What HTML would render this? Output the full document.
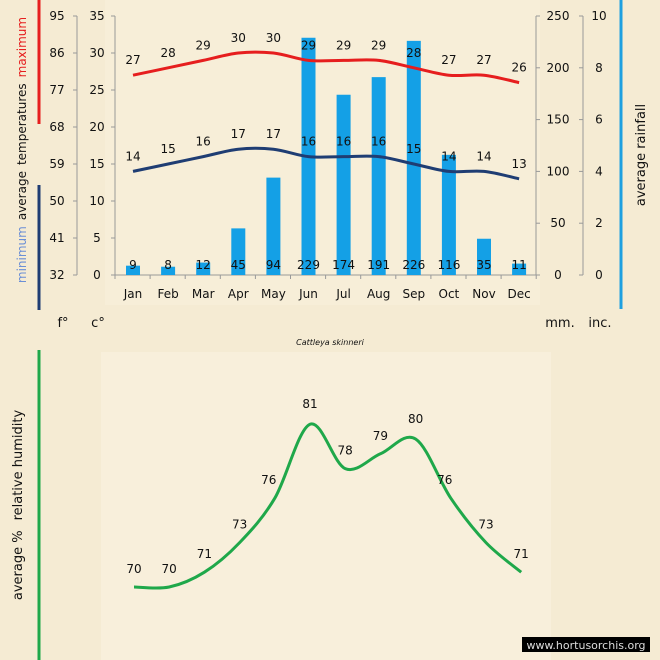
<!DOCTYPE html>
<html><head><meta charset="utf-8"><style>
html,body{margin:0;padding:0;background:#f5ebd3;}
svg{display:block;font-family:"DejaVu Sans","Liberation Sans",sans-serif;}
</style></head><body>
<svg id="s" width="660" height="660" viewBox="0 0 660 660" xmlns="http://www.w3.org/2000/svg">
<rect width="660" height="660" fill="#f5ebd3"/>
<rect x="105" y="0" width="435" height="305" fill="#f7eed8"/>
<rect x="101" y="352" width="450" height="308" fill="#f8efdb"/>
</svg>
<script>
const s=document.getElementById('s');const NS='http://www.w3.org/2000/svg';
function el(t,a,txt){const e=document.createElementNS(NS,t);for(const k in a)e.setAttribute(k,a[k]);if(txt!==undefined)e.textContent=txt;s.appendChild(e);return e;}
function txt(x,y,t,sz,o){return el('text',Object.assign({x:x,y:y,'font-size':sz||12,fill:'#111','text-anchor':'middle'},o||{}),t);}
function smooth(p){let d='M'+p[0][0]+','+p[0][1];for(let i=0;i<p.length-1;i++){const p0=p[i-1]||p[i],p1=p[i],p2=p[i+1],p3=p[i+2]||p2;const t=6;d+=' C'+(p1[0]+(p2[0]-p0[0])/t)+','+(p1[1]+(p2[1]-p0[1])/t)+' '+(p2[0]-(p3[0]-p1[0])/t)+','+(p2[1]-(p3[1]-p1[1])/t)+' '+p2[0]+','+p2[1];}return d;}
const mon=['Jan','Feb','Mar','Apr','May','Jun','Jul','Aug','Sep','Oct','Nov','Dec'];
const X=i=>133+i*35.1;
const Y=v=>275-7.4*v;
const rain=[9,8,12,45,94,229,174,191,226,116,35,11];
const mx=[27,28,29,30,30,29,29,29,28,27,27,26];
const mn=[14,15,16,17,17,16,16,16,15,14,14,13];
el('line',{x1:39,y1:0,x2:39,y2:124,stroke:'#e61e1e','stroke-width':3});
el('line',{x1:39,y1:185,x2:39,y2:310,stroke:'#1f3d73','stroke-width':3});
el('line',{x1:621,y1:0,x2:621,y2:309,stroke:'#1ea0e0','stroke-width':3});
el('line',{x1:39,y1:350,x2:39,y2:660,stroke:'#1fa84a','stroke-width':3});
const g=el('text',{transform:'translate(26,150) rotate(-90)','font-size':12,'text-anchor':'middle',fill:'#111'});
g.innerHTML='<tspan fill="#6b8fd6">minimum</tspan><tspan dx="6">average</tspan><tspan dx="6">temperatures</tspan><tspan dx="6" fill="#e61e1e">maximum</tspan>';
el('text',{transform:'translate(645,155) rotate(-90)','font-size':13,'text-anchor':'middle',fill:'#111'},'average rainfall');
const h=el('text',{transform:'translate(22,505) rotate(-90)','font-size':13,'text-anchor':'middle',fill:'#111'});
h.innerHTML='<tspan>average %</tspan><tspan dx="10">relative humidity</tspan>';
el('line',{x1:77,y1:16,x2:77,y2:275,stroke:'#999'});
el('line',{x1:115,y1:16,x2:115,y2:275,stroke:'#999'});
el('line',{x1:536,y1:16,x2:536,y2:275,stroke:'#999'});
el('line',{x1:583,y1:16,x2:583,y2:275,stroke:'#999'});
el('line',{x1:115,y1:275,x2:536,y2:275,stroke:'#999'});
const F=[32,41,50,59,68,77,86,95];
for(let i=0;i<8;i++){const y=275-i*37;
 el('line',{x1:73,y1:y,x2:77,y2:y,stroke:'#999'});el('line',{x1:111,y1:y,x2:115,y2:y,stroke:'#999'});
 txt(57,y+4,F[i],12);txt(97,y+4,i*5,12);}
for(let i=0;i<6;i++){const y=275-i*51.8;
 el('line',{x1:536,y1:y,x2:540,y2:y,stroke:'#999'});el('line',{x1:579,y1:y,x2:583,y2:y,stroke:'#999'});
 txt(558,y+4,i*50,12);txt(599,y+4,i*2,12);}
for(let i=0;i<=12;i++){const x=115+i*35.1;el('line',{x1:x,y1:275,x2:x,y2:279,stroke:'#999'});}
for(let i=0;i<12;i++){const x=X(i),hh=rain[i]*1.036;
 el('rect',{x:x-7,y:275-hh,width:14,height:hh,fill:'#14a0e6'});
 txt(x,298,mon[i],12);txt(x,269,rain[i],12);}
el('path',{d:smooth(mx.map((v,i)=>[X(i),Y(v)])),fill:'none',stroke:'#e61e1e','stroke-width':3});
el('path',{d:smooth(mn.map((v,i)=>[X(i),Y(v)])),fill:'none',stroke:'#1f3d73','stroke-width':3});
mx.forEach((v,i)=>txt(X(i),Y(v)-11,v,12));
mn.forEach((v,i)=>txt(X(i),Y(v)-11,v,12));
txt(63,327,'f°',13);txt(98,327,'c°',13);txt(560,327,'mm.',13);txt(600,327,'inc.',13);
txt(330,345,'Cattleya skinneri',8,{'font-style':'italic'});
const hum=[70,70,71,73,76,81,78,79,80,76,73,71];
const HX=i=>134+i*35.2, HY=v=>587-(v-70)*14.8;
el('path',{d:smooth(hum.map((v,i)=>[HX(i),HY(v)])),fill:'none',stroke:'#1fa84a','stroke-width':3});
hum.forEach((v,i)=>txt(HX(i)-(i==4||i==9?6:0),HY(v)-(i==5||i==8?16:14),v,12));
el('rect',{x:522,y:637,width:128,height:15,fill:'#000'});
txt(586,649,'www.hortusorchis.org',11,{fill:'#ddd'});
</script>
</body></html>
